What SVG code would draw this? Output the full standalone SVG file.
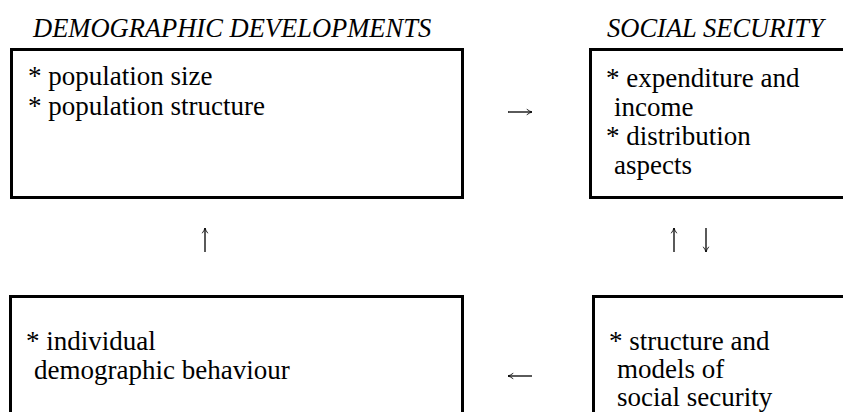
<svg xmlns="http://www.w3.org/2000/svg" width="843" height="412" viewBox="0 0 843 412">
<defs>
<marker id="ah" viewBox="0 0 10 10" refX="9.5" refY="5" markerWidth="7" markerHeight="8" orient="auto" markerUnits="userSpaceOnUse">
<path d="M2,1 Q6,4 9.5,5 Q6,6 2,9" fill="none" stroke="#000" stroke-width="1.2"/>
</marker>
</defs>
<style>
.box{fill:none;stroke:#000;stroke-width:3}
.t{font-family:"Liberation Serif","Times New Roman",serif;font-size:27px;fill:#000}
.h{font-family:"Liberation Serif","Times New Roman",serif;font-size:26.5px;font-style:italic;fill:#000}
.c{fill:none;stroke:#000;stroke-width:1.3;marker-end:url(#ah)}
</style>
<rect width="843" height="412" fill="#fff"/>
<text class="h" x="33" y="37">DEMOGRAPHIC DEVELOPMENTS</text>
<text class="h" x="607" y="37">SOCIAL SECURITY</text>
<g id="demographic">
<rect class="box" x="11.5" y="49.5" width="451" height="148"/>
<text class="t" x="28" y="85">* population size</text>
<text class="t" x="28" y="115">* population structure</text>
</g>
<g id="socialsecurity">
<rect class="box" x="590.5" y="49.5" width="260" height="148"/>
<text class="t" x="606" y="87">* expenditure and</text>
<text class="t" x="614" y="116">income</text>
<text class="t" x="606" y="145">* distribution</text>
<text class="t" x="614" y="174">aspects</text>
</g>
<g id="behaviour">
<rect class="box" x="10.5" y="296.5" width="452" height="130"/>
<text class="t" x="26" y="350">* individual</text>
<text class="t" x="34" y="379">demographic behaviour</text>
</g>
<g id="structure">
<rect class="box" x="593.5" y="296.5" width="260" height="130"/>
<text class="t" x="609" y="350">* structure and</text>
<text class="t" x="617" y="378">models of</text>
<text class="t" x="617" y="406">social security</text>
</g>
<g id="connectors">
<line class="c" x1="508" y1="112" x2="532" y2="112"/>
<line class="c" x1="205" y1="252" x2="205" y2="228"/>
<line class="c" x1="674" y1="252" x2="674" y2="228"/>
<line class="c" x1="706" y1="228" x2="706" y2="252"/>
<line class="c" x1="532" y1="376" x2="508" y2="376"/>
</g>
</svg>
